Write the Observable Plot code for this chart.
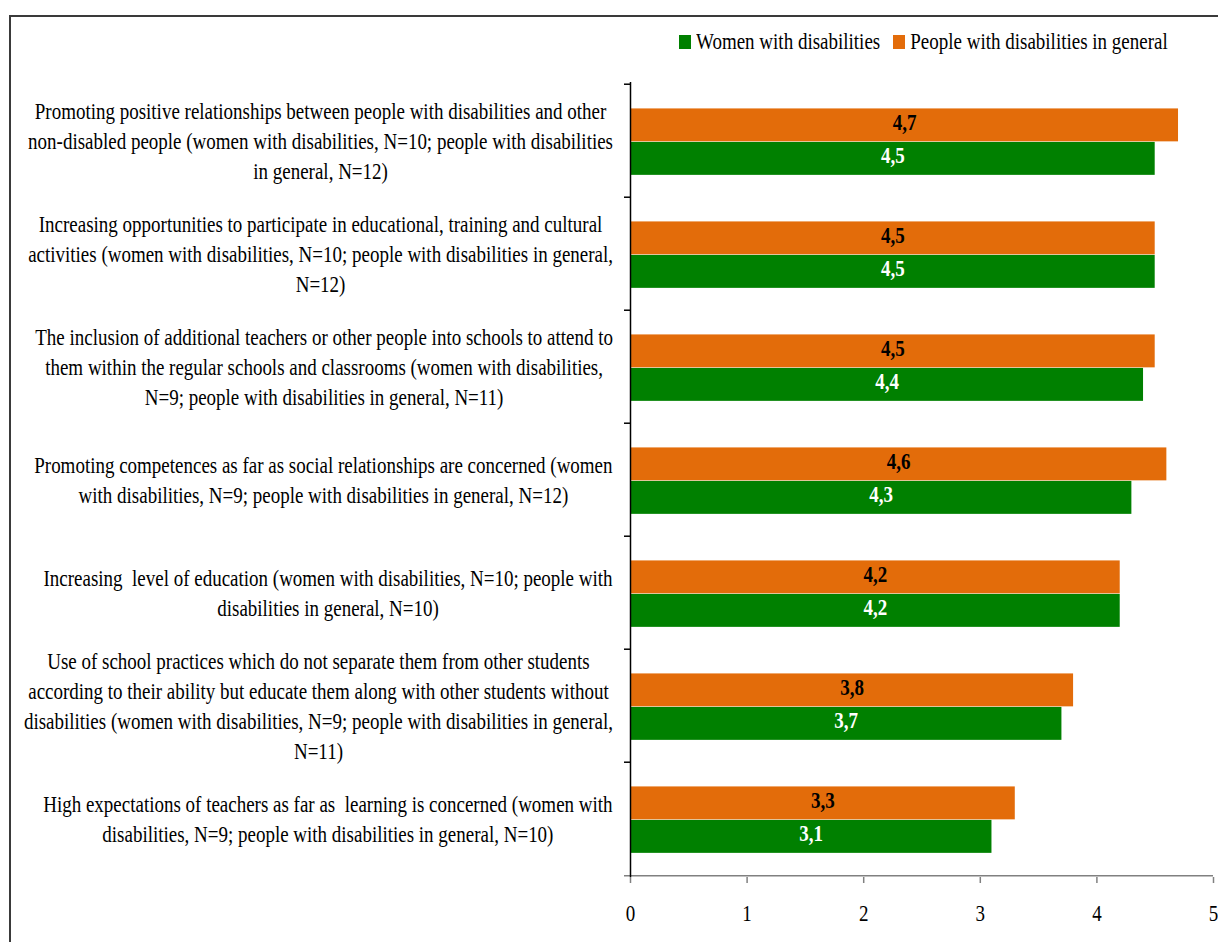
<!DOCTYPE html>
<html>
<head>
<meta charset="utf-8">
<script src="https://cdn.jsdelivr.net/npm/d3@7"></script>
<script src="https://cdn.jsdelivr.net/npm/@observablehq/plot@0.6"></script>
<style>
  body { margin: 0; background: #fff; }
  #page { position: relative; width: 1218px; height: 942px; overflow: hidden;
          font-family: "Liberation Serif", "Times New Roman", serif; color: #000; }
  #frame { position: absolute; left: 9px; top: 15px; right: -5px; bottom: -5px;
           border-top: 2px solid #3a3a3a; border-left: 2px solid #3a3a3a; pointer-events: none; }
  #legend { height: 62px; box-sizing: border-box; padding-top: 22px; padding-left: 679px;
            display: flex; align-items: center; font-size: 19px; white-space: nowrap; }
  #legend .item { display: flex; align-items: center; margin-right: 13px; }
  #legend .sw { display: inline-block; width: 12px; height: 14px; margin-right: 5px; }
  #legend .t { display: inline-block; transform: scaleY(1.2); }
  #chart svg { display: block; }
</style>
</head>
<body>
<div id="page">
  <div id="frame"></div>
  <div id="legend"></div>
  <div id="chart"></div>
</div>
<script>
// Survey items (top to bottom) and their wrapped axis labels
const categories = [
  "Promoting positive relationships",
  "Increasing opportunities to participate",
  "Inclusion of additional teachers",
  "Promoting competences",
  "Increasing level of education",
  "Non-separating school practices",
  "High expectations of teachers"
];
const categoryLabels = [
  "Promoting positive relationships between people with disabilities and other\nnon-disabled people (women with disabilities, N=10; people with disabilities\nin general, N=12)",
  "Increasing opportunities to participate in educational, training and cultural\nactivities (women with disabilities, N=10; people with disabilities in general,\nN=12)",
  "The inclusion of additional teachers or other people into schools to attend to\nthem within the regular schools and classrooms (women with disabilities,\nN=9; people with disabilities in general, N=11)",
  "Promoting competences as far as social relationships are concerned (women\nwith disabilities, N=9; people with disabilities in general, N=12)",
  "Increasing  level of education (women with disabilities, N=10; people with\ndisabilities in general, N=10)",
  "Use of school practices which do not separate them from other students\naccording to their ability but educate them along with other students without\ndisabilities (women with disabilities, N=9; people with disabilities in general,\nN=11)",
  "High expectations of teachers as far as  learning is concerned (women with\ndisabilities, N=9; people with disabilities in general, N=10)"
];
const seriesNames = ["Women with disabilities", "People with disabilities in general"];
const womenValues = [4.5, 4.5, 4.4, 4.3, 4.2, 3.7, 3.1];
const generalValues = [4.7, 4.5, 4.5, 4.6, 4.2, 3.8, 3.3];
const xTicks = [0, 1, 2, 3, 4, 5];

const colors = {women: "#008000", general: "#E36C0A"};

const rows = categories.map((c, i) => ({
  category: c,
  label: categoryLabels[i],
  women: womenValues[i],
  general: generalValues[i]
}));
const labelOf = new Map(rows.map(d => [d.category, d.label]));
const fmt = v => d3.format(".1f")(v).replace(".", ",");

// Layout
const W = 1218, H = 880;
const mt = 20, mb = 65, ml = 630, mr = 5;
const bw = (H - mt - mb) / categories.length;   // height of one category band
const textScale = 1.2;                            // tall, narrow lettering
const labelRight = 613;                           // right edge of the category label blocks
const serif = "'Liberation Serif', 'Times New Roman', serif";

// Legend
const legend = document.getElementById("legend");
[["women", seriesNames[0]], ["general", seriesNames[1]]].forEach(([k, name]) => {
  const item = document.createElement("div");
  item.className = "item";
  const sw = document.createElement("span");
  sw.className = "sw";
  sw.style.background = colors[k];
  const t = document.createElement("span");
  t.className = "t";
  t.textContent = name;
  item.append(sw, t);
  legend.append(item);
});

const chart = Plot.plot({
  width: W,
  height: H,
  marginTop: mt,
  marginBottom: mb,
  marginLeft: ml,
  marginRight: mr,
  style: {fontFamily: serif, fontSize: "19px", color: "#000", background: "transparent", overflow: "visible"},
  x: {domain: [0, 5], label: null},
  y: {domain: categories, padding: 0, label: null},
  marks: [
    Plot.barX(rows, {x: "general", y: "category", fill: colors.general,
      insetTop: 0.215 * bw, insetBottom: 0.49 * bw}),
    Plot.barX(rows, {x: "women", y: "category", fill: colors.women,
      insetTop: 0.51 * bw, insetBottom: 0.195 * bw}),
    Plot.text(rows, {x: d => d.general / 2, y: "category", text: d => fmt(d.general),
      dy: -0.135 * bw - 3, fill: "#000", fontWeight: "bold", fontSize: 19}),
    Plot.text(rows, {x: d => d.women / 2, y: "category", text: d => fmt(d.women),
      dy: 0.1575 * bw - 3, fill: "#fff", fontWeight: "bold", fontSize: 19}),
    // value axis line and its ticks
    Plot.ruleY([categories[categories.length - 1]], {dy: bw / 2, insetLeft: -6, stroke: "#808080", strokeWidth: 1.5}),
    Plot.axisX({ticks: xTicks, tickFormat: d => d, tickSize: 6, tickPadding: 21,
      stroke: "#808080", strokeWidth: 1.5, fill: "#000"}),
    // category axis: line, boundary ticks and wrapped labels
    Plot.ruleX([0], {stroke: "#000", strokeWidth: 1.5}),
    Plot.ruleY(categories, {y: d => d, x1: 0, x2: 0, insetLeft: -6, dy: -bw / 2, stroke: "#000", strokeWidth: 1.5}),
    Plot.axisY({tickSize: 0, tickPadding: 0, tickFormat: d => labelOf.get(d),
      textAnchor: "middle", dx: 318 - ml, dy: -2, lineHeight: 30 / 19 / textScale, fill: "#000"})
  ]
});

// Stretch every label vertically about its own anchor point
chart.querySelectorAll("text").forEach(t => {
  const tr = t.getAttribute("transform") || "";
  t.setAttribute("transform", `${tr} scale(1,${textScale})`);
});

document.getElementById("chart").append(chart);

// Each wrapped category label is centred line by line, with its widest line ending at labelRight
chart.querySelectorAll("text").forEach(t => {
  if (!t.querySelector("tspan")) return;
  const box = t.getBBox();
  const ctm = t.getCTM();
  const right = ctm.a * (box.x + box.width) + ctm.e;
  const shift = labelRight - right;
  t.setAttribute("transform", `translate(${shift},0) ${t.getAttribute("transform")}`);
});
</script>
</body>
</html>
